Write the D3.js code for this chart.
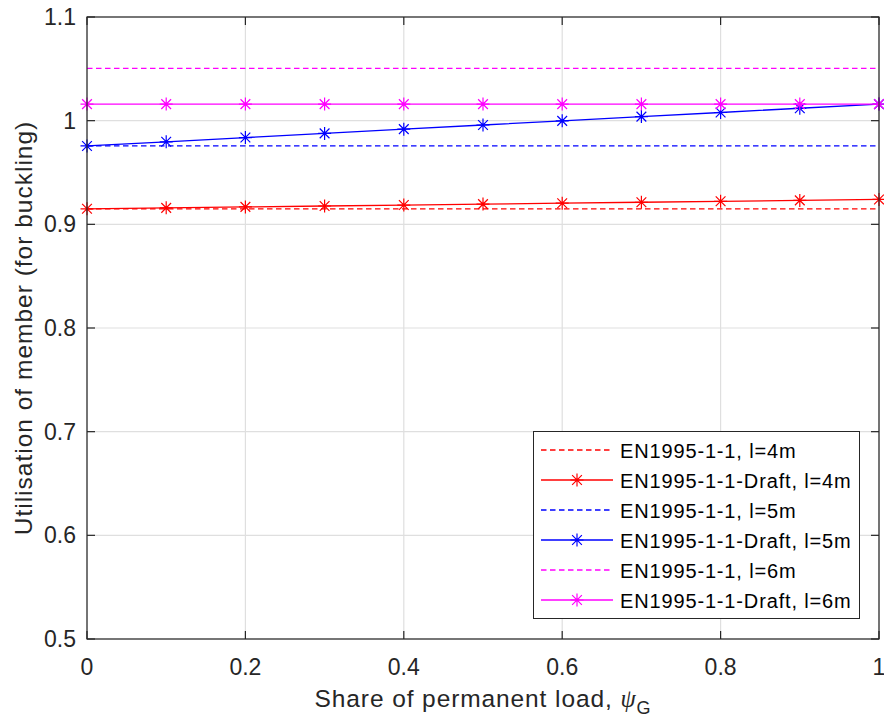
<!DOCTYPE html>
<html><head><meta charset="utf-8">
<script src="https://cdn.jsdelivr.net/npm/d3@7"></script>
<style>body{margin:0;background:#fff}svg{display:block}text{font-family:"Liberation Sans",Arial,Helvetica,sans-serif}</style>
</head><body>
<svg id="c" width="884" height="724"></svg>
<script>
const psi = [0,0.1,0.2,0.3,0.4,0.5,0.6,0.7,0.8,0.9,1.0];
const ec4 = 0.915, ec5 = 0.9756, ec6 = 1.0505;
const draft4 = [0.915,0.9159,0.9168,0.9177,0.9186,0.9195,0.9204,0.9213,0.9222,0.9231,0.924];
const draft5 = [0.9756,0.9796,0.9837,0.9877,0.9918,0.9958,0.9998,1.0039,1.0079,1.0120,1.016];
const draft6 = [1.016,1.016,1.016,1.016,1.016,1.016,1.016,1.016,1.016,1.016,1.016];
const xTicks = [0,0.2,0.4,0.6,0.8,1];
const yTicks = [0.5,0.6,0.7,0.8,0.9,1.0,1.1];
const legendLabels = ["EN1995-1-1, l=4m","EN1995-1-1-Draft, l=4m","EN1995-1-1, l=5m","EN1995-1-1-Draft, l=5m","EN1995-1-1, l=6m","EN1995-1-1-Draft, l=6m"];

const svg = d3.select("#c");
const L=87, R=879, T=17, B=639;
const x = d3.scaleLinear().domain([0,1]).range([L,R]);
const y = d3.scaleLinear().domain([0.5,1.1]).range([B,T]);
const axc = "#262626";

// grid
svg.append("g").selectAll("line").data(xTicks).join("line")
  .attr("x1",d=>x(d)).attr("x2",d=>x(d)).attr("y1",T).attr("y2",B)
  .attr("stroke","#dfdfdf").attr("stroke-width",1.2);
svg.append("g").selectAll("line").data(yTicks).join("line")
  .attr("y1",d=>y(d)).attr("y2",d=>y(d)).attr("x1",L).attr("x2",R)
  .attr("stroke","#dfdfdf").attr("stroke-width",1.2);

// series
const series = [
  {color:"#ff0000", dash:true, vals: psi.map(()=>ec4)},
  {color:"#ff0000", dash:false, vals: draft4},
  {color:"#0000ff", dash:true, vals: psi.map(()=>ec5)},
  {color:"#0000ff", dash:false, vals: draft5},
  {color:"#ff00ff", dash:true, vals: psi.map(()=>ec6)},
  {color:"#ff00ff", dash:false, vals: draft6},
];
const line = d3.line().x((d,i)=>x(psi[i])).y(d=>y(d));
function star(g, cx, cy, col, r){
  const k=r*0.75;
  const p = `M${cx-r},${cy}L${cx+r},${cy}M${cx},${cy-r}L${cx},${cy+r}`+
    `M${cx-k},${cy-k}L${cx+k},${cy+k}M${cx-k},${cy+k}L${cx+k},${cy-k}`;
  g.append("path").attr("d",p).attr("stroke",col).attr("stroke-width",1.2).attr("fill","none");
}
const plot = svg.append("g");
series.forEach(s=>{
  plot.append("path").attr("d",line(s.vals)).attr("fill","none")
    .attr("stroke",s.color).attr("stroke-width",1.3)
    .attr("stroke-dasharray",s.dash?"5.5,3.5":null);
  if(!s.dash){
    s.vals.forEach((v,i)=>star(plot,x(psi[i]),y(v),s.color,6.5));
  }
});

// box
svg.append("rect").attr("x",L).attr("y",T).attr("width",R-L).attr("height",B-T)
  .attr("fill","none").attr("stroke",axc).attr("stroke-width",1.2);

// ticks
const tl=8;
xTicks.forEach(t=>{
  svg.append("line").attr("x1",x(t)).attr("x2",x(t)).attr("y1",B).attr("y2",B-tl).attr("stroke",axc).attr("stroke-width",1.2);
  svg.append("line").attr("x1",x(t)).attr("x2",x(t)).attr("y1",T).attr("y2",T+tl).attr("stroke",axc).attr("stroke-width",1.2);
  svg.append("text").attr("x",x(t)).attr("y",B+36).attr("text-anchor","middle")
    .attr("font-size",23).attr("fill",axc).text(d3.format("~g")(t));
});
yTicks.forEach(t=>{
  svg.append("line").attr("y1",y(t)).attr("y2",y(t)).attr("x1",L).attr("x2",L+tl).attr("stroke",axc).attr("stroke-width",1.2);
  svg.append("line").attr("y1",y(t)).attr("y2",y(t)).attr("x1",R).attr("x2",R-tl).attr("stroke",axc).attr("stroke-width",1.2);
  svg.append("text").attr("x",L-11).attr("y",y(t)+8).attr("text-anchor","end")
    .attr("font-size",23).attr("fill",axc).text(d3.format("~g")(t));
});

// axis labels
const xl = svg.append("text").attr("x",(L+R)/2).attr("y",707).attr("text-anchor","middle")
  .attr("font-size",24.5).attr("letter-spacing",0.9).attr("fill",axc);
xl.append("tspan").text("Share of permanent load, ");
xl.append("tspan").attr("font-style","italic").attr("font-family","'Liberation Serif','DejaVu Serif',serif").text("ψ");
xl.append("tspan").attr("font-size",18).attr("dy",7).text("G");
svg.append("text").attr("transform",`translate(32,${(T+B)/2}) rotate(-90)`).attr("text-anchor","middle")
  .attr("font-size",24.5).attr("letter-spacing",1).attr("fill",axc).text("Utilisation of member (for buckling)");

// legend
const lg = svg.append("g");
lg.append("rect").attr("x",533.5).attr("y",431.5).attr("width",326).attr("height",187)
  .attr("fill","#fff").attr("stroke",axc).attr("stroke-width",1);
legendLabels.forEach((lab,i)=>{
  const s=series[i], yy=450+i*30;
  lg.append("line").attr("x1",541).attr("x2",613).attr("y1",yy).attr("y2",yy)
    .attr("stroke",s.color).attr("stroke-width",1.3).attr("stroke-dasharray",s.dash?"5.5,3.5":null);
  if(!s.dash) star(lg,577,yy,s.color,6.5);
  lg.append("text").attr("x",620).attr("y",yy+8).attr("font-size",20).attr("letter-spacing",0.85).attr("fill","#000").text(lab);
});
</script>
</body></html>
